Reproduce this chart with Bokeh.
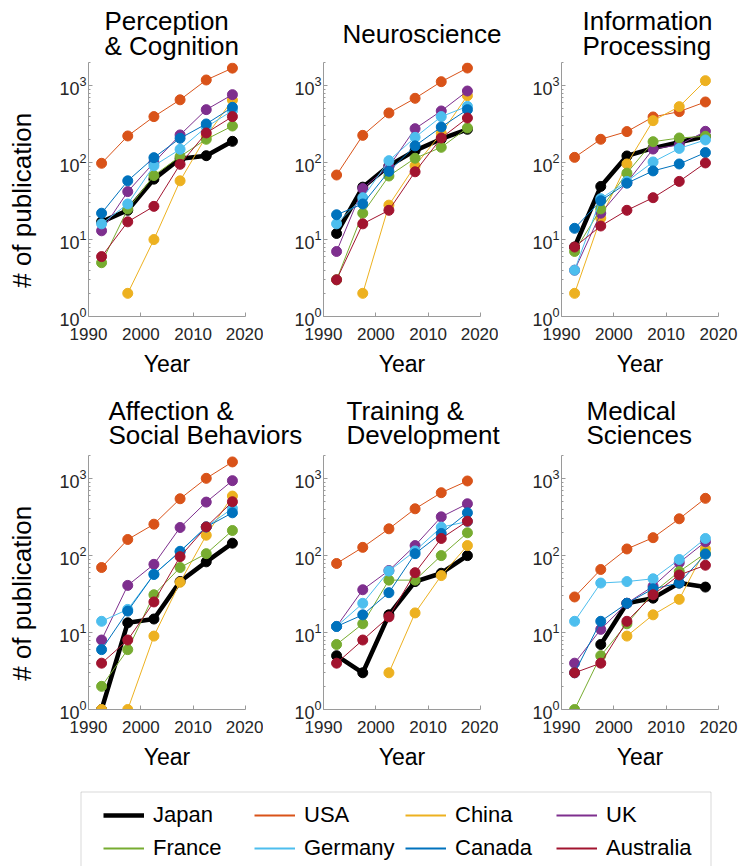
from bokeh.plotting import figure
from bokeh.layouts import column, row
from bokeh.models import (Range1d, FixedTicker, LogTickFormatter, Label, Legend,
                          LegendItem, BoxAnnotation, ColumnDataSource)
from bokeh.embed import file_html
from bokeh.resources import INLINE
import numpy as np

nan = float("nan")

years = [1992.5, 1997.5, 2002.5, 2007.5, 2012.5, 2017.5]
countries = ["Japan", "USA", "China", "UK", "France", "Germany", "Canada", "Australia"]
colors = ["#000000", "#D95319", "#EDB120", "#7E2F8E", "#77AC30", "#4DBEEE", "#0072BD", "#A2142F"]

perception = {
    "Japan":     [17, 24, 61, 112, 123, 189],
    "USA":       [98, 222, 396, 655, 1185, 1690],
    "China":     [nan, 2, 10, 58, 220, 650],
    "UK":        [13, 42, 100, 229, 488, 764],
    "France":    [5, 25, 68, 120, 201, 299],
    "Germany":   [16, 29, 91, 149, 290, 473],
    "Canada":    [22, 58, 116, 207, 318, 523],
    "Australia": [6, 17, 27, 95, 243, 396],
}
neuroscience = {
    "Japan":     [12, 48, 91, 143, 203, 271],
    "USA":       [69, 226, 442, 685, 1127, 1695],
    "China":     [nan, 2, 28, 91, 240, 741],
    "UK":        [7, 46, 89, 276, 469, 852],
    "France":    [3, 22, 67, 114, 158, 282],
    "Germany":   [16, 35, 106, 213, 396, 538],
    "Canada":    [21, 29, 77, 165, 290, 488],
    "Australia": [3, 16, 24, 76, 209, 380],
}
information = {
    "Japan":     [8, 49, 122, 154, 184, 220],
    "USA":       [117, 201, 253, 392, 460, 614],
    "China":     [2, 19, 96, 351, 534, 1161],
    "UK":        [4, 22, 55, 150, 170, 255],
    "France":    [7, 25, 73, 187, 209, 220],
    "Germany":   [4, 34, 57, 102, 153, 197],
    "Canada":    [14, 32, 54, 78, 96, 135],
    "Australia": [8, 15, 24, 35, 57, 99],
}
affection = {
    "Japan":     [1, 13.4, 15, 46, 83, 145],
    "USA":       [70, 162, 256, 548, 1010, 1650],
    "China":     [1, 1, 9, 45, 184, 594],
    "UK":        [8, 41, 77, 232, 496, 942],
    "France":    [2, 6, 31, 70, 106, 212],
    "Germany":   [14, 20, 57, 114, 236, 410],
    "Canada":    [6, 19, 57, 113, 236, 360],
    "Australia": [4, 8, 25, 97, 236, 501],
}
training = {
    "Japan":     [5, 3, 17, 46, 59, 100],
    "USA":       [79, 128, 223, 406, 657, 933],
    "China":     [nan, nan, 3, 18, 55, 135],
    "UK":        [12, 36, 64, 135, 319, 472],
    "France":    [7, 13, 48, 48, 100, 198],
    "Germany":   [12, 24, 63, 115, 234, 277],
    "Canada":    [12, 17, 33, 106, 194, 360],
    "Australia": [4, 8, 16, 60, 167, 280],
}
medical = {
    "Japan":     [nan, 7, 24, 28, 44, 39],
    "USA":       [29, 66, 122, 171, 301, 555],
    "China":     [nan, nan, 9, 17, 27, 122],
    "UK":        [4, 11, 24, 40, 81, 151],
    "France":    [1, 5, 13, 33, 62, 107],
    "Germany":   [14, 44, 46, 50, 89, 167],
    "Canada":    [3, 14, 24, 37, 44, 104],
    "Australia": [3, 4, 14, 31, 56, 75],
}

titles_top = [["Perception", "& Cognition"], ["Neuroscience"], ["Information", "Processing"]]
titles_bottom = [["Affection &", "Social Behaviors"], ["Training &", "Development"], ["Medical", "Sciences"]]

x_ticks = [1990, 2000, 2010, 2020]
y_ticks = [1, 10, 100, 1000]
y_minor = [m * 10 ** e for e in range(0, 4) for m in range(2, 10) if m * 10 ** e <= 2000]

FONT = "Liberation Sans"
AXIS_GRAY = "#9a9a9a"
TEXT_DARK = "#262626"
W = 740


def make_panel(data, left, right, bottom, ylabel):
    p = figure(frame_width=157, frame_height=254,
               x_range=Range1d(1990, 2020), y_range=Range1d(1, 2000),
               y_axis_type="log", output_backend="svg", toolbar_location=None,
               min_border_left=left, min_border_right=right,
               min_border_top=0, min_border_bottom=bottom, title=None)
    p.outline_line_color = None
    p.grid.visible = False

    p.xaxis.ticker = FixedTicker(ticks=x_ticks)
    p.yaxis.ticker = FixedTicker(ticks=y_ticks, minor_ticks=y_minor)
    p.yaxis.formatter = LogTickFormatter()
    for ax in (p.xaxis, p.yaxis):
        ax.axis_line_color = AXIS_GRAY
        ax.major_tick_line_color = AXIS_GRAY
        ax.minor_tick_line_color = AXIS_GRAY
        ax.major_tick_in = 4
        ax.major_tick_out = 0
        ax.minor_tick_in = 2
        ax.minor_tick_out = 0
        ax.major_label_text_font = FONT
        ax.major_label_text_color = TEXT_DARK
        ax.axis_label_text_font = FONT
        ax.axis_label_text_font_style = "normal"
        ax.axis_label_text_color = "#000000"
    p.xaxis.major_label_text_font_size = "17px"
    p.yaxis.major_label_text_font_size = "18px"
    p.xaxis.major_label_standoff = 11
    p.yaxis.major_label_standoff = 2
    p.xaxis.axis_label = "Year"
    p.xaxis.axis_label_text_font_size = "23px"
    p.xaxis.axis_label_standoff = 8
    if ylabel:
        p.yaxis.axis_label = "# of publication" + "\u00a0" * 3
        p.yaxis.axis_label_text_font_size = "26px"
        p.yaxis.axis_label_standoff = 19

    for name, color in zip(countries, colors):
        src = ColumnDataSource(dict(x=years, y=np.array(data[name], dtype=float)))
        japan = name == "Japan"
        p.line("x", "y", source=src, line_color=color, line_width=4.5 if japan else 1)
        p.scatter("x", "y", source=src, size=10, fill_color=color, line_color=color)
    return p


def make_title_strip(height, titles, xs, mid_two, mid_one):
    # mid_* are distances of the text middles from the top of the strip
    s = figure(width=W, height=height, x_range=Range1d(0, W), y_range=Range1d(0, height),
               min_border=0, x_axis_type=None, y_axis_type=None,
               output_backend="svg", toolbar_location=None)
    s.outline_line_color = None
    s.grid.visible = False
    for lines, x in zip(titles, xs):
        ys = [mid_one] if len(lines) == 1 else mid_two
        for t, y in zip(lines, ys):
            s.add_layout(Label(x=x, y=height - y, text=t, text_font=FONT,
                               text_font_size="26px", text_color="#000000",
                               text_align="left", text_baseline="middle"))
    return s


strip1 = make_title_strip(62, titles_top, [104, 342, 582], [20, 45], 33)
f1 = make_panel(perception, 88, 18, 70, True)
f2 = make_panel(neuroscience, 60, 18, 70, False)
f3 = make_panel(information, 63, 22, 70, False)
strip2 = make_title_strip(69, titles_bottom, [108, 346, 586], [24, 48], 36)
f4 = make_panel(affection, 88, 18, 72, True)
f5 = make_panel(training, 60, 18, 72, False)
f6 = make_panel(medical, 63, 22, 72, False)

# legend panel
LH = 85
lg = figure(width=W, height=LH, x_range=Range1d(0, W), y_range=Range1d(0, LH),
            min_border=0, x_axis_type=None, y_axis_type=None,
            output_backend="svg", toolbar_location=None)
lg.outline_line_color = None
lg.grid.visible = False
lg.add_layout(BoxAnnotation(left=80.5, right=710.5, top=LH - 10.5, bottom=-30,
                            fill_color=None, fill_alpha=0,
                            line_color="#808080", line_width=1))
items = []
for name, color in zip(countries, colors):
    r = lg.line(x=[nan], y=[nan], line_color=color,
                line_width=4.5 if name == "Japan" else 2)
    items.append(LegendItem(label=name, renderers=[r]))
leg = Legend(items=items, orientation="horizontal", ncols=4, location=(103, 5),
             glyph_width=41, glyph_height=26, label_standoff=9, label_width=94,
             label_height=26, spacing=7, padding=0, margin=0,
             label_text_font=FONT, label_text_font_size="22px", label_text_color="#000000",
             border_line_color=None, background_fill_alpha=0)
lg.add_layout(leg)

layout = column(strip1, row(f1, f2, f3), strip2, row(f4, f5, f6), lg)

open("out.html", "w").write(file_html(layout, INLINE))
